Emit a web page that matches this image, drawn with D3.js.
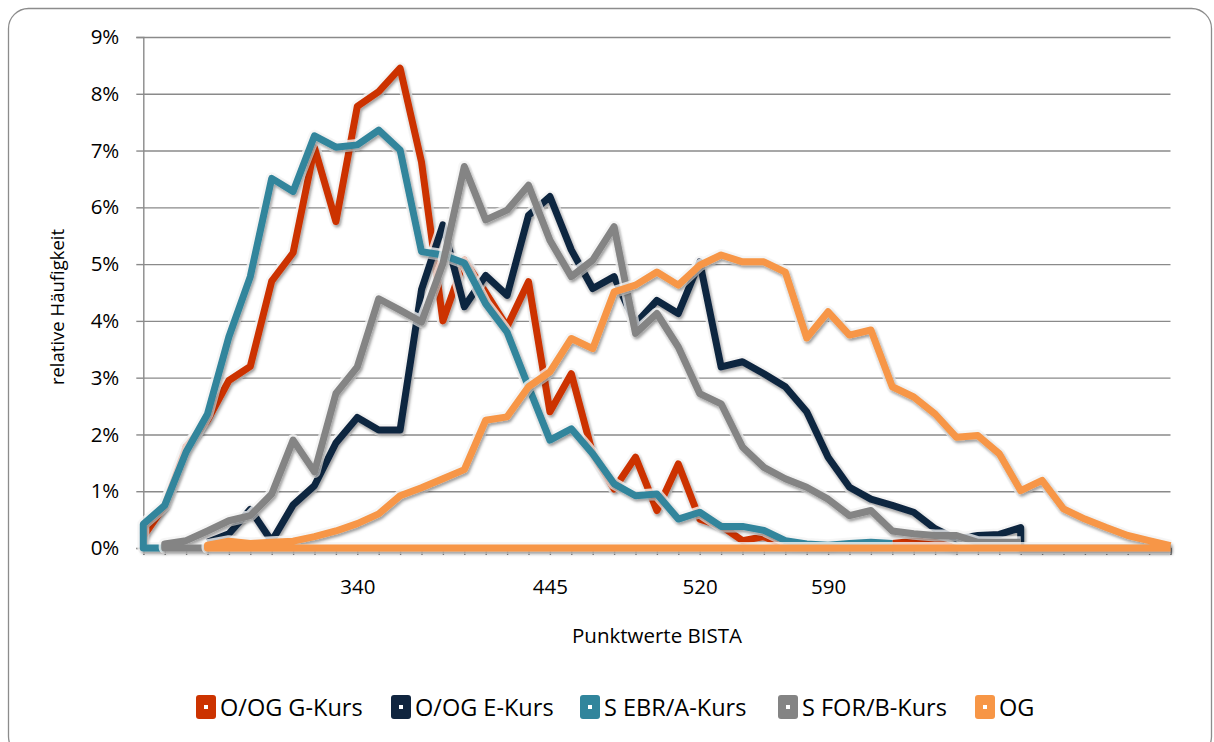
<!DOCTYPE html>
<html>
<head>
<meta charset="utf-8">
<script src="https://cdn.jsdelivr.net/npm/d3@7"></script>
<style>
  body { margin: 0; background: #fff; }
  svg { display: block; font-family: "Open Sans", sans-serif; }
</style>
</head>
<body>
<div id="plt"></div>
<script>
// category labels along the x axis (only four are printed)
var tickLabels = ["", "", "", "", "", "", "", "", "", "", "340", "", "", "", "", "", "", "", "",
                  "445", "", "", "", "", "", "", "520", "", "", "", "", "", "590", "", "", "",
                  "", "", "", "", "", "", "", "", "", "", "", "", ""];

var seriesNames = ["O/OG G-Kurs", "O/OG E-Kurs", "S EBR/A-Kurs", "S FOR/B-Kurs", "OG"];
var seriesColors = ["#cc3300", "#10253f", "#31859c", "#848484", "#f79646"];

// relative frequency in percent, one value per category (null = no point)
var gKurs = [0.2, 0.75, 1.78, 2.25, 2.95, 3.2, 4.7, 5.2, 7.05, 5.75, 7.78, 8.04, 8.45, 6.8, 4.0, 5.07,
             4.5, 3.9, 4.69, 2.4, 3.07, 1.66, 1.04, 1.6, 0.66, 1.48, 0.51, 0.39, 0.13, 0.2, 0.05, 0.03,
             0.03, 0.05, 0.05, 0.08, 0.12, 0.1, 0, null, null, null, null, null, null, null, null, null, null];
var eKurs = [null, null, null, 0.1, 0.25, 0.68, 0.12, 0.76, 1.1, 1.85, 2.3, 2.08, 2.08, 4.55, 5.69, 4.25,
             4.8, 4.45, 5.86, 6.19, 5.25, 4.57, 4.78, 3.95, 4.36, 4.13, 5.04, 3.19, 3.28, 3.07, 2.84, 2.4,
             1.6, 1.07, 0.86, 0.75, 0.63, 0.34, 0.16, 0.22, 0.24, 0.36, null, null, null, null, null, null, null];
var ebrKurs = [0.42, 0.75, 1.69, 2.36, 3.72, 4.78, 6.51, 6.28, 7.26, 7.06, 7.1, 7.36, 7.01, 5.22, 5.16, 5.02,
               4.3, 3.8, 2.84, 1.9, 2.1, 1.66, 1.13, 0.92, 0.95, 0.51, 0.63, 0.38, 0.38, 0.31, 0.13, 0.07,
               0.05, 0.08, 0.1, 0.08, null, null, null, null, null, null, null, null, null, null, null, null, null];
var forKurs = [null, 0.07, 0.13, 0.3, 0.48, 0.57, 0.95, 1.9, 1.34, 2.72, 3.19, 4.39, 4.19, 3.98, 5.01, 6.72,
               5.78, 5.95, 6.39, 5.42, 4.78, 5.07, 5.66, 3.78, 4.13, 3.54, 2.72, 2.54, 1.78, 1.42, 1.22, 1.07,
               0.86, 0.57, 0.66, 0.3, 0.25, 0.22, 0.22, 0.1, 0.1, 0.1, null, null, null, null, null, null, null];
var og = [null, null, null, 0.05, 0.12, 0.08, 0.1, 0.12, 0.2, 0.3, 0.43, 0.6, 0.92, 1.06, 1.22, 1.38,
          2.25, 2.31, 2.84, 3.1, 3.69, 3.51, 4.51, 4.63, 4.86, 4.63, 4.98, 5.16, 5.04, 5.04, 4.86, 3.7,
          4.16, 3.75, 3.84, 2.84, 2.66, 2.36, 1.95, 1.98, 1.66, 1.01, 1.19, 0.69, 0.51, 0.36, 0.22, 0.13, 0.04];
var seriesValues = [gKurs, eKurs, ebrKurs, forKurs, og];

// zero runs drawn along the baseline before / after a series
var leadZeroFrom = [null, null, 1, 3, 48];
var tailZeroTo = [null, 48, null, null, null];

var yTicks = [0, 1, 2, 3, 4, 5, 6, 7, 8, 9];

// set the dimensions and margins of the plot
var margin = {top: 37, right: 43.5, bottom: 194, left: 143.3};
var width = 1214 - margin.left - margin.right;
var height = 742 - margin.top - margin.bottom;

var root = d3.select("#plt")
             .append("svg")
             .attr("width", 1214)
             .attr("height", 742);

var defs = root.append("defs");
var shadow = defs.append("filter")
                 .attr("id", "shadow")
                 .attr("x", "-5%").attr("y", "-5%")
                 .attr("width", "110%").attr("height", "110%");
shadow.append("feDropShadow")
      .attr("dx", 1.5).attr("dy", 2.5)
      .attr("stdDeviation", 1.8)
      .attr("flood-color", "#000")
      .attr("flood-opacity", 0.35);

// outer rounded frame
root.append("rect")
    .attr("x", 8.5).attr("y", 8.5)
    .attr("width", 1203).attr("height", 748)
    .attr("rx", 20)
    .attr("fill", "none")
    .attr("stroke", "#8c8c8c")
    .attr("stroke-width", 1.3);

var svg = root.append("g")
              .attr("transform", "translate(" + margin.left + "," + margin.top + ")");

var x = d3.scalePoint()
          .domain(tickLabels.map(function(d, i) { return i; }))
          .range([0, width]);

var y = d3.scaleLinear()
          .domain([0, 9])
          .range([height, 0]);

// gridlines
svg.append("g")
   .attr("class", "grid")
   .call(d3.axisLeft(y).tickValues(yTicks).tickSize(-width).tickFormat(""))
   .call(function(g) {
     g.select(".domain").remove();
     g.selectAll("line").attr("stroke", "#8a8a8a").attr("stroke-width", 1.4);
   });

// y axis
svg.append("g")
   .call(d3.axisLeft(y).tickValues(yTicks).tickSize(7).tickPadding(17)
           .tickFormat(function(d) { return d + "%"; }))
   .call(function(g) {
     g.select(".domain").attr("stroke", "#8a8a8a").attr("stroke-width", 1.4);
     g.selectAll("line").attr("stroke", "#8a8a8a").attr("stroke-width", 1.4);
     g.selectAll("text").attr("font-size", 20.5).attr("fill", "#000")
      .attr("font-family", "Open Sans, sans-serif");
   });

// x axis
svg.append("g")
   .attr("transform", "translate(0," + height + ")")
   .call(d3.axisBottom(x).tickSize(7).tickPadding(24)
           .tickFormat(function(i) { return tickLabels[i]; }))
   .call(function(g) {
     g.select(".domain").attr("stroke", "#8a8a8a").attr("stroke-width", 1.4);
     g.selectAll("line").attr("stroke", "#8a8a8a").attr("stroke-width", 1.4);
     g.selectAll("text").attr("font-size", 20.5).attr("fill", "#000")
      .attr("font-family", "Open Sans, sans-serif");
   });

// axis titles
root.append("text")
    .attr("transform", "translate(64,307) rotate(-90)")
    .attr("text-anchor", "middle")
    .attr("font-size", 18.5)
    .text("relative Häufigkeit");

root.append("text")
    .attr("x", 657).attr("y", 643)
    .attr("text-anchor", "middle")
    .attr("font-size", 20.5)
    .text("Punktwerte BISTA");

// build point lists (with baseline runs) for each series
var series = seriesNames.map(function(name, s) {
  var pts = [];
  seriesValues[s].forEach(function(v, i) { if (v !== null) pts.push([i, v]); });
  if (leadZeroFrom[s] !== null) {
    pts.unshift([pts[0][0], 0]);
    pts.unshift([leadZeroFrom[s], 0]);
  }
  if (tailZeroTo[s] !== null) {
    pts.push([pts[pts.length - 1][0], 0]);
    pts.push([tailZeroTo[s], 0]);
  }
  return {name: name, color: seriesColors[s], points: pts};
});

var line = d3.line()
             .x(function(d) { return x(d[0]); })
             .y(function(d) { return y(d[1]); });

var lines = svg.append("g");

series.forEach(function(d) {
  // soft light halo under the line
  lines.append("path")
       .attr("d", line(d.points))
       .attr("fill", "none")
       .attr("stroke", "#f4f4f4")
       .attr("stroke-width", 12)
       .attr("stroke-linejoin", "round")
       .attr("opacity", 0.8);
  lines.append("path")
       .attr("d", line(d.points))
       .attr("fill", "none")
       .attr("stroke", d.color)
       .attr("stroke-width", 7)
       .attr("stroke-linejoin", "round")
       .attr("filter", "url(#shadow)");
});

// legend
var legendX = [196, 391, 580, 778, 975];
var legend = root.append("g");
series.forEach(function(d, s) {
  var item = legend.append("g").attr("transform", "translate(" + legendX[s] + ",695)");
  item.append("rect")
      .attr("width", 20).attr("height", 24).attr("rx", 3)
      .attr("fill", d.color);
  item.append("rect")
      .attr("x", 8).attr("y", 10).attr("width", 4).attr("height", 4)
      .attr("fill", "#fff");
  item.append("text")
      .attr("x", 24).attr("y", 21)
      .attr("font-size", 23.5)
      .text(d.name);
});
</script>
</body>
</html>
